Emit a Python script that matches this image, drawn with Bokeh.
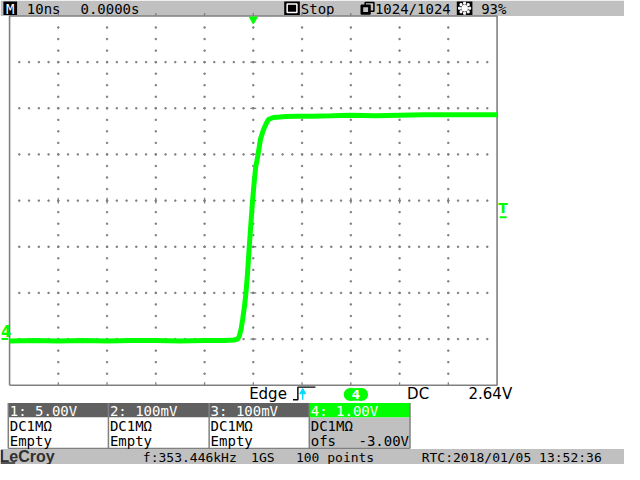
import numpy as np
from bokeh.plotting import figure
from bokeh.models import Range1d
from bokeh.core.properties import value
from bokeh.embed import file_html
from bokeh.resources import INLINE

# ---------------- data ----------------
time_ns = [-50, -45, -40, -35, -30, -25, -20, -15, -10, -6, -4, -3.2, -2.86,
           -2.5, -2.2, -1.85, -1.52, -1.2, -0.86, -0.52, -0.2, 0.14, 0.48,
           0.94, 1.48, 2.14, 2.7, 3.14, 4.14, 5.5, 6.74, 9, 12,
           16.1, 20, 25, 30, 35, 40, 45, 50]
volts = [-0.04, -0.03, -0.04, -0.03, -0.04, -0.03, -0.03, -0.04, -0.03,
         -0.03, -0.02, 0.0, 0.07, 0.22, 0.42, 0.68, 0.99, 1.41, 1.96, 2.46,
         2.94, 3.36, 3.72, 3.98, 4.34, 4.55, 4.68, 4.76, 4.80, 4.81, 4.82,
         4.83, 4.83, 4.84, 4.85, 4.84, 4.85, 4.86, 4.86, 4.86, 4.86]
trigger_level_v = 2.64
ground_v = 0.0

top_texts = ["10ns", "0.0000s", "Stop", "1024/1024", "93%"]
trig_texts = ["Edge", "DC", "2.64V"]
ch_headers = ["1: 5.00V", "2: 100mV", "3: 100mV", "4: 1.00V"]
ch_coupling = ["DC1M\u03a9", "DC1M\u03a9", "DC1M\u03a9", "DC1M\u03a9"]
ch_third = ["Empty", "Empty", "Empty", "ofs"]
ch4_offset = "-3.00V"
bottom_texts = ["f:353.446kHz", "1GS", "100 points", "RTC:2018/01/05 13:52:36"]

# ---------------- figure in screen-like coordinates ----------------
W, H = 624, 464
p = figure(width=W, height=H, x_range=Range1d(0, 640), y_range=Range1d(480, 0),
           output_backend="svg", toolbar_location=None, min_border=0)
p.axis.visible = False
p.xgrid.visible = False
p.ygrid.visible = False
p.outline_line_color = None
p.background_fill_color = "white"
p.border_fill_color = "white"

GREEN = "#00ff00"
GRAY = "#c0c0c0"
DGRAY = "#808080"
HDR = "#606060"
MONO = value("DejaVu Sans Mono")

X0, XC, X1 = 9.3, 259.3, 509.3
Y0, YC, Y1 = 16.0, 207.0, 398.0
DX, DY = 50.0, 47.75
ZERO_Y = YC + 3 * DY      # ground marker of channel 4 (offset -3 V at 1 V/div)
NS_PER_DIV = 10.0
p.extra_x_ranges = {"t": Range1d((0 - XC) / DX * NS_PER_DIV, (640 - XC) / DX * NS_PER_DIV)}
p.extra_y_ranges = {"v": Range1d((ZERO_Y - 480) / DY, ZERO_Y / DY)}

# ---------------- top bar ----------------
p.quad(left=0, right=640, top=0, bottom=16, color=GRAY, line_color=None)
p.quad(left=3, right=17, top=1, bottom=15, color="black", line_color=None)
p.text(x=[10], y=[8.5], text=["M"], text_color="white", text_font=MONO,
       text_font_size="14px", text_align="center", text_baseline="middle")
# stop icon
p.quad(left=291, right=307, top=1, bottom=15, color="black", line_color=None)
p.quad(left=294, right=304, top=3.5, bottom=12.5, fill_color="black",
       line_color="white", line_width=1.5)
# memory icon
p.quad(left=374, right=383, top=2, bottom=11, fill_color=GRAY, line_color="black", line_width=1.5)
p.quad(left=370, right=379, top=5, bottom=14, fill_color="black", line_color="black", line_width=1.5)
p.quad(left=372, right=377, top=7, bottom=12, fill_color=GRAY, line_color=None)
# brightness icon
p.quad(left=468, right=484, top=1, bottom=15, color="black", line_color=None)
ang = np.linspace(0, 2 * np.pi, 9)[:-1]
p.scatter(x=476 + 5.2 * np.cos(ang), y=8 + 5.2 * np.sin(ang), size=2, color="white", marker="square")
p.scatter(x=[476], y=[8], size=6, color="white")
p.text(x=[27, 82, 308, 384, 493], y=[8.5] * 5, text=top_texts, text_color="black",
       text_font=MONO, text_font_size="14px", text_baseline="middle")

# ---------------- graticule ----------------
vx = [X0 + DX * k for k in range(1, 10)]
vy = [Y0 + DY / 4 * m for m in range(1, 32)]
gx, gy = np.meshgrid(vx, vy)
p.rect(x=gx.ravel(), y=gy.ravel(), width=1.3, height=1.3, width_units="screen",
       height_units="screen", color=DGRAY)
hy = [Y0 + DY * j for j in range(1, 8)]
hx = [X0 + 10 * m for m in range(1, 50)]
gx, gy = np.meshgrid(hx, hy)
p.rect(x=gx.ravel(), y=gy.ravel(), width=1.3, height=1.3, width_units="screen",
       height_units="screen", color=DGRAY)
# center ticks
p.segment(x0=[XC - 3] * 7, x1=[XC + 3] * 7, y0=hy, y1=hy, color=DGRAY, line_width=1.3)
p.segment(x0=vx, x1=vx, y0=[YC - 3] * 9, y1=[YC + 3] * 9, color=DGRAY, line_width=1.3)
# border ticks
p.segment(x0=vx, x1=vx, y0=[Y0 - 3] * 9, y1=[Y0] * 9, color=DGRAY, line_width=1.3)
p.segment(x0=vx, x1=vx, y0=[Y1 - 3] * 9, y1=[Y1] * 9, color=DGRAY, line_width=1.3)
# border
p.line(x=[X0, X0, X1, X1, X0], y=[Y1, Y0, Y0, Y1, Y1], color=DGRAY, line_width=1.6)

# ---------------- trace ----------------
p.line(x=time_ns, y=volts, x_range_name="t", y_range_name="v", color=GREEN, line_width=5)

# markers
p.scatter(x=[0], y=[Y0 + 3.5], x_range_name="t", marker="inverted_triangle", size=8,
          color=GREEN)
p.text(x=[0.5], y=[342], text=["4"], text_color=GREEN, text_font=value("DejaVu Sans"),
       text_font_style="bold", text_font_size="15px", text_baseline="middle")
p.segment(x0=[1], x1=[8], y0=[ground_v], y1=[ground_v], y_range_name="v", color=GREEN, line_width=2)
p.text(x=[515.5], y=[215], text=["T"], text_color=GREEN, text_font=value("DejaVu Sans"),
       text_font_style="bold", text_font_size="14px", text_baseline="middle", text_align="center")
p.segment(x0=[512], x1=[519], y0=[trigger_level_v], y1=[trigger_level_v], y_range_name="v",
          color=GREEN, line_width=2)

# ---------------- trigger row ----------------
p.text(x=[255, 417, 480], y=[407.5] * 3, text=trig_texts, text_color="black",
       text_font=value("DejaVu Sans"), text_font_size="15px", text_baseline="middle")
p.line(x=[300, 305, 305, 323], y=[413, 413, 400, 400], color="black", line_width=1.4)
p.segment(x0=[310], x1=[310], y0=[413], y1=[405], color="#00d8ff", line_width=1.4)
p.scatter(x=[310], y=[405], marker="triangle", size=6, color="#00d8ff")
# pill
p.quad(left=358, right=371, top=401, bottom=414, color=GREEN, line_color=None)
p.circle(x=[358.5, 370.5], y=[407.5, 407.5], radius=6.5, color=GREEN, line_color=None)
p.text(x=[364.5], y=[408], text=["4"], text_color="white", text_font=value("DejaVu Sans"),
       text_font_style="bold", text_font_size="12px", text_align="center", text_baseline="middle")

# ---------------- channel boxes ----------------
bl = [8, 110.7, 214, 316.7]
br = [110.7, 214, 316.7, 420]
hdr_col = [HDR, HDR, HDR, GREEN]
body_col = ["white", "white", "white", GRAY]
p.quad(left=bl, right=br, top=[416.5] * 4, bottom=[431.5] * 4, color=hdr_col, line_color=None)
p.quad(left=bl, right=br, top=[431.5] * 4, bottom=[463.5] * 4, fill_color=body_col,
       line_color=None)
p.segment(x0=bl + [420], x1=bl + [420], y0=[416.5] * 5, y1=[463.5] * 5, color=DGRAY, line_width=1.5)
p.segment(x0=[8], x1=[420], y0=[463.5], y1=[463.5], color=DGRAY, line_width=1.5)
tx = [b + 1.5 for b in bl]
p.text(x=tx, y=[424.5] * 4, text=ch_headers, text_color="white", text_font=MONO,
       text_font_size="14px", text_baseline="middle")
p.text(x=tx, y=[440] * 4, text=ch_coupling, text_color="black", text_font=MONO,
       text_font_size="14px", text_baseline="middle")
p.text(x=tx, y=[455.5] * 4, text=ch_third, text_color="black", text_font=MONO,
       text_font_size="14px", text_baseline="middle")
p.text(x=[419], y=[455.5], text=[ch4_offset], text_color="black", text_font=MONO,
       text_font_size="14px", text_baseline="middle", text_align="right")

# ---------------- bottom bar ----------------
p.quad(left=0, right=640, top=464, bottom=480, color=GRAY, line_color=None)
p.text(x=[-1], y=[472], text=["LeCroy"], text_color="#303030", text_font=value("Liberation Sans"),
       text_font_style="bold", text_font_size="16px", text_baseline="middle")
p.segment(x0=[0], x1=[15], y0=[478.5], y1=[478.5], color="#303030", line_width=1.5)
p.text(x=[146, 257, 303, 432], y=[472.5] * 4, text=bottom_texts, text_color="black",
       text_font=MONO, text_font_size="13px", text_baseline="middle")

open("out.html", "w").write(file_html(p, INLINE))
